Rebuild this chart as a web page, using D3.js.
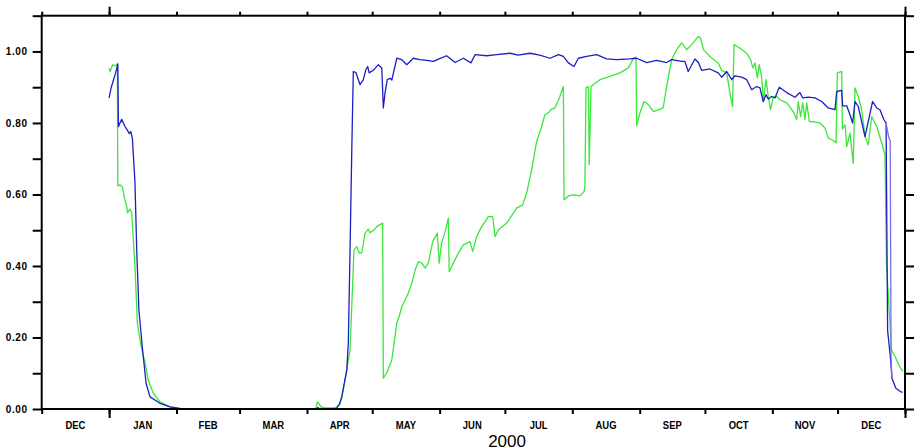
<!DOCTYPE html>
<html>
<head>
  <meta charset="utf-8">
  <title></title>
  <style>
    body { margin: 0; background: #fff; }
  </style>
</head>
<body>
  <script src="https://d3js.org/d3.v7.min.js" charset="utf-8"></script>
  <script type="text/javascript">
    // days counted from 1 Jan 2000
    var blueDays = [0,1,2,3,4,4.3,5.8,7.3,8.4,9.3,10,10.7,11.9,12.7,13.7,15.4,17,18.8,23.4,28,32.6,36,95,96,97,104.6,106,107,107.7,109.3,110,110.8,111.6,112.3,113.5,115.4,116.9,118.1,118.9,119.6,121.8,123.8,125.4,126.1,126.9,127.9,129.2,130,132.3,134.6,136.9,139.9,143,146,149.1,152,155.2,159.1,162.9,166.4,168.3,173.6,178.2,184.4,188,193.6,198,202.8,206.6,208.9,211.2,213.8,215.8,219.6,224.2,228.8,233.4,239.5,242.6,247.2,251.8,256.4,258.7,263.3,264.8,266.3,269.4,271,272.5,276.3,280.1,281.7,284,286.3,287.8,290.9,293.2,295.5,297.8,299.3,300.8,302.1,303.1,304.7,306.2,308.2,311.6,315.4,317.7,319,321.5,324.6,327.7,330.7,333.8,334.6,336.9,337.3,339.2,340.7,341.9,343,344.5,347.6,351.1,353,354.5,356.3,357.3,358,359.4,360,361.8,364,365];
    var blueVals = [0.87,0.90,0.92,0.94,0.965,0.79,0.81,0.79,0.78,0.77,0.776,0.757,0.633,0.445,0.277,0.165,0.072,0.034,0.016,0.006,0.002,0,0,0.004,0,0.002,0.015,0.035,0.058,0.109,0.184,0.445,0.725,0.944,0.941,0.907,0.921,0.949,0.958,0.94,0.949,0.963,0.954,0.842,0.884,0.921,0.925,0.92,0.981,0.977,0.963,0.981,0.977,0.975,0.972,0.98,0.988,0.969,0.981,0.968,0.991,0.988,0.991,0.995,0.99,0.995,0.99,0.981,0.991,0.986,0.968,0.958,0.981,0.986,0.991,0.979,0.977,0.979,0.981,0.969,0.975,0.969,0.977,0.972,0.972,0.944,0.979,0.969,0.947,0.951,0.94,0.928,0.944,0.921,0.932,0.928,0.921,0.893,0.902,0.898,0.86,0.879,0.867,0.874,0.87,0.9,0.885,0.872,0.885,0.87,0.872,0.87,0.86,0.842,0.837,0.888,0.891,0.848,0.848,0.823,0.8,0.86,0.846,0.762,0.86,0.842,0.837,0.809,0.80,0.22,0.137,0.086,0.058,0.048,0.047];

    var greenDays = [0,0.5,1.6,2.7,3.8,4,5,6.2,6.9,8.1,8.5,9.6,10.4,11.9,13,14.2,15.4,16.5,18,20.3,23.4,28,33,95,95.8,96.8,97.5,99,104,106,107,108.5,110.8,112,112.6,113.9,115.1,116.2,117.7,119.2,120,121.8,123.1,124.3,125.8,126.1,127.9,130,132.3,133.8,134.6,136.5,137.6,139.2,140.7,142.2,143.8,145.3,146.8,148.8,150.9,151.8,152.9,154.5,156,156.4,158.3,160.6,162.9,164.5,166,167.2,169,171.3,172.9,174.4,176.4,177.5,179,182.8,185.9,187.4,190.2,192,194.3,196.6,198.9,200.4,202,203.5,205,207.3,208.9,209.2,211.2,213.5,216.5,218.4,218.8,219.3,220.4,220.8,221.6,225.7,230.3,234.9,238.8,241.1,242.3,242.6,244.1,246,248,250.3,254.8,256.4,258.7,261,263.3,265.6,267.9,271,272,273.3,276.3,280.1,281.7,284,285.5,286.7,287.4,290.1,293.2,295,296,297,298.1,299,300.1,300.9,302.1,303.1,304.2,305.4,307,308.5,311.6,314.6,316.2,316.9,318,319,320,320.8,322,323.8,326.9,329.2,330.7,333,334.3,334.9,336.9,337.2,338.4,339.2,340.7,342.2,343,344.5,346.1,347.6,349.1,350.7,353,355.3,356.8,357.5,358.5,359.8,361.5,363,365];
    var greenVals = [0.953,0.944,0.963,0.96,0.965,0.624,0.627,0.62,0.594,0.566,0.549,0.559,0.548,0.398,0.24,0.193,0.156,0.132,0.081,0.044,0.02,0.006,0,0,0.02,0.012,0.005,0.003,0.004,0.012,0.03,0.081,0.165,0.352,0.445,0.454,0.436,0.437,0.492,0.503,0.493,0.501,0.51,0.515,0.52,0.086,0.104,0.137,0.24,0.268,0.286,0.31,0.324,0.352,0.389,0.412,0.408,0.394,0.408,0.468,0.492,0.408,0.464,0.496,0.534,0.384,0.408,0.436,0.459,0.464,0.468,0.44,0.482,0.51,0.524,0.538,0.538,0.482,0.501,0.52,0.548,0.562,0.571,0.604,0.669,0.748,0.79,0.823,0.828,0.839,0.842,0.874,0.902,0.585,0.596,0.599,0.596,0.608,0.622,0.898,0.902,0.683,0.902,0.921,0.93,0.94,0.954,0.981,0.984,0.792,0.828,0.86,0.851,0.832,0.842,0.902,0.977,1.005,1.024,1.005,1.019,1.042,1.038,1.005,0.986,0.968,0.947,0.94,0.884,0.846,1.019,1.009,0.995,0.977,0.954,0.968,0.926,0.963,0.926,0.86,0.921,0.874,0.837,0.872,0.874,0.865,0.856,0.832,0.809,0.86,0.818,0.856,0.809,0.856,0.804,0.804,0.8,0.786,0.758,0.751,0.744,0.94,0.944,0.783,0.795,0.734,0.772,0.687,0.898,0.874,0.837,0.762,0.739,0.818,0.79,0.744,0.711,0.40,0.30,0.165,0.146,0.125,0.105];

    var purpleDays = [357.3,358.5,359.2,359.6,360];
    var purpleVals = [0.80,0.76,0.75,0.14,0.09];

    var monthLabels = ["DEC","JAN","FEB","MAR","APR","MAY","JUN","JUL","AUG","SEP","OCT","NOV","DEC"];
    var yTicks = [0,0.1,0.2,0.3,0.4,0.5,0.6,0.7,0.8,0.9,1.0,1.1];
    var yLabelTicks = [0,0.2,0.4,0.6,0.8,1.0];
    var yearLabel = "2000";

    var width = 920, height = 448;
    var plotLeft = 41.7, plotRight = 905, plotTop = 15.7, plotBottom = 409;

    var svg = d3.select("body").append("svg")
      .attr("width", width)
      .attr("height", height);

    var t0 = Date.UTC(2000, 0, 1);
    function toDate(d) { return new Date(t0 + d * 864e5); }

    var x = d3.scaleUtc()
      .domain([new Date(Date.UTC(1999, 11, 1)), new Date(Date.UTC(2001, 0, 1))])
      .range([plotLeft, plotRight]);
    var y = d3.scaleLinear().domain([0, 1.1]).range([plotBottom, plotTop]);

    var months = d3.utcMonth.range(new Date(Date.UTC(1999, 11, 1)), new Date(Date.UTC(2001, 0, 2)));
    var years = [new Date(Date.UTC(2000, 0, 1)), new Date(Date.UTC(2001, 0, 1))];

    function styleAxis(g) {
      g.select(".domain").remove();
      g.selectAll("line").attr("stroke", "#000").attr("stroke-width", 2);
    }

    // y axes, ticks both sides
    svg.append("g").attr("transform", "translate(" + plotLeft + ",0)")
      .call(d3.axisLeft(y).tickValues(yTicks).tickSize(9).tickPadding(5)
        .tickFormat(function(v) { return yLabelTicks.some(function(t) { return Math.abs(t - v) < 1e-6; }) ? d3.format(".2f")(v) : ""; }))
      .call(styleAxis)
      .selectAll("text")
      .attr("font-family", "'Liberation Sans', Arial, sans-serif")
      .attr("font-weight", "bold")
      .attr("font-size", 10)
      .attr("letter-spacing", "0.6px")
      .attr("fill", "#000");

    svg.append("g").attr("transform", "translate(" + plotRight + ",0)")
      .call(d3.axisRight(y).tickValues(yTicks).tickSize(9).tickFormat(""))
      .call(styleAxis);

    // x axes: month ticks short, year ticks long
    svg.append("g").attr("transform", "translate(0," + plotBottom + ")")
      .call(d3.axisBottom(x).tickValues(months).tickSize(5).tickFormat(""))
      .call(styleAxis);
    svg.append("g").attr("transform", "translate(0," + plotBottom + ")")
      .call(d3.axisBottom(x).tickValues(years).tickSize(9).tickFormat(""))
      .call(styleAxis);
    svg.append("g").attr("transform", "translate(0," + plotTop + ")")
      .call(d3.axisTop(x).tickValues(months).tickSize(4).tickFormat(""))
      .call(styleAxis);
    svg.append("g").attr("transform", "translate(0," + plotTop + ")")
      .call(d3.axisTop(x).tickValues(years).tickSize(9).tickFormat(""))
      .call(styleAxis);

    // month names centred in each month
    svg.append("g").selectAll("text")
      .data(monthLabels)
      .enter().append("text")
      .attr("transform", function(d, i) {
        var mid = (x(months[i]) + x(months[i + 1])) / 2;
        return "translate(" + mid + ",428.7) scale(0.86,1)";
      })
      .attr("text-anchor", "middle")
      .attr("font-family", "'Liberation Sans', Arial, sans-serif")
      .attr("font-weight", "bold")
      .attr("font-size", 11)
      .text(function(d) { return d; });

    svg.append("text")
      .attr("x", (x(years[0]) + x(years[1])) / 2)
      .attr("y", 446.5)
      .attr("text-anchor", "middle")
      .attr("font-family", "'Liberation Sans', Arial, sans-serif")
      .attr("font-size", 17)
      .text(yearLabel);

    // data lines
    var line = d3.line()
      .x(function(d) { return x(toDate(d[0])); })
      .y(function(d) { return y(d[1]); });

    var series = [
      { days: greenDays, vals: greenVals, color: "#3ae83a" },
      { days: blueDays, vals: blueVals, color: "#1e1ec4" },
      { days: purpleDays, vals: purpleVals, color: "#7a6cf0" }
    ];

    series.forEach(function(s) {
      var pts = s.days.map(function(d, i) { return [d, s.vals[i]]; });
      svg.append("path")
        .datum(pts)
        .attr("fill", "none")
        .attr("stroke", s.color)
        .attr("stroke-width", 1.3)
        .attr("stroke-linejoin", "round")
        .attr("d", line);
    });

    // frame
    svg.append("rect")
      .attr("x", plotLeft).attr("y", plotTop)
      .attr("width", plotRight - plotLeft).attr("height", plotBottom - plotTop)
      .attr("fill", "none")
      .attr("stroke", "#000")
      .attr("stroke-width", 2);
  </script>
</body>
</html>
